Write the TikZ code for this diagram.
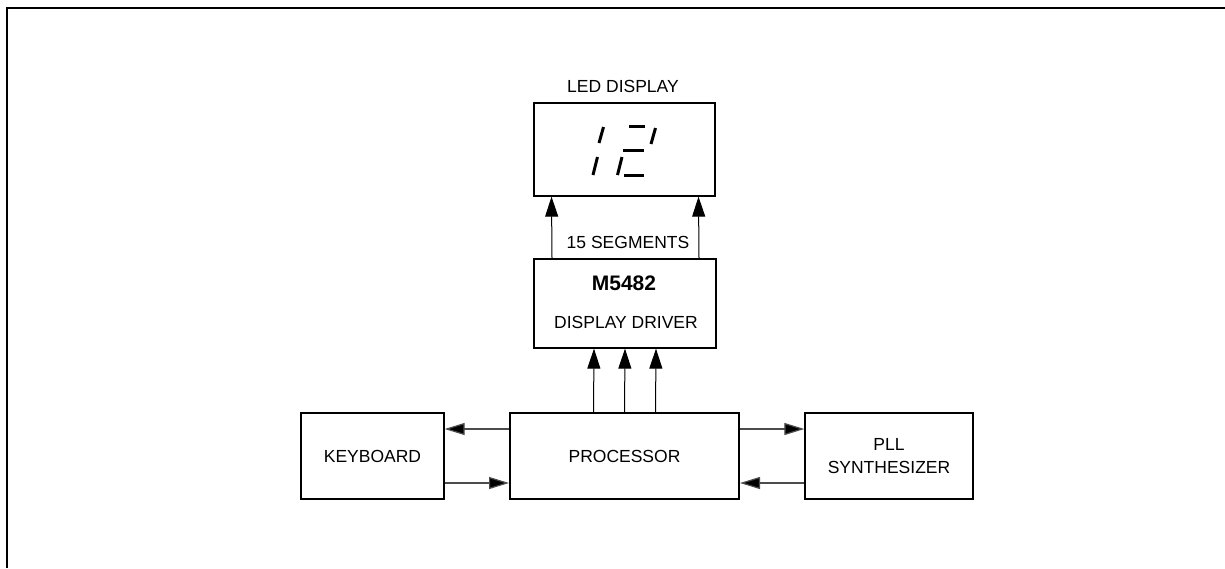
\documentclass[tikz,border=0pt]{standalone}
\usepackage{fontspec}
\setmainfont{Liberation Sans}
\usetikzlibrary{arrows.meta}
\begin{document}
\begin{tikzpicture}[x=1pt,y=-1pt,
  blk/.style={draw=black,line width=1.3pt,inner sep=0pt,font=\fontsize{17.5}{23}\selectfont,align=center},
  txt/.style={inner sep=0pt,font=\fontsize{17.5}{23}\selectfont},
  arr/.style={line width=1pt,-{Triangle[length=20pt,width=13pt]}},
  harr/.style={draw=black!70,line width=1.2pt,-{Triangle[length=20pt,width=12pt,fill=black]}},
  seg/.style={line width=3pt,line cap=butt}]
\useasboundingbox (0,0) rectangle (1225,568);
% frame
\draw[line width=2.6pt] (7,568) -- (7,8) -- (1225,8);
% blocks
\node[blk,minimum width=181pt,minimum height=93pt] (disp) at (624.5,149.5) {};
\node[blk,minimum width=182pt,minimum height=89pt] (drv) at (625,303.5) {};
\node[blk,line width=2pt,minimum width=229pt,minimum height=86pt] (proc) at (624.5,456) {PROCESSOR};
\node[blk,minimum width=143pt,minimum height=86pt] (kbd) at (372.5,456) {KEYBOARD};
\node[blk,minimum width=168pt,minimum height=86pt] (pll) at (889,456) {PLL\\SYNTHESIZER};
% labels
\node[txt] (ledlbl) at (623,86) {LED DISPLAY};
\node[txt] (seglbl) at (628,242) {15 SEGMENTS};
\node[inner sep=0pt,font=\fontsize{21}{25}\selectfont\bfseries] (m5482) at (624,283) {M5482};
\node[txt] (drvlbl) at (626,322) {DISPLAY DRIVER};
% segment digits
\draw[seg] (603.5,127) -- (599,143);
\draw[seg] (597.5,157) -- (593,175);
\draw[seg] (629,126) -- (645,126);
\draw[seg] (655.5,128) -- (651,144);
\draw[seg] (623,150) -- (644,150);
\draw[seg] (622,157) -- (617.5,175);
\draw[seg] (624,175) -- (644,175);
% vertical arrows
\draw[arr] ([xshift=-73pt]drv.north) -- ([xshift=-73pt]disp.south);
\draw[arr] ([xshift=74pt]drv.north) -- ([xshift=74pt]disp.south);
\foreach \dx in {-31,0,31}
  \draw[arr] ([xshift=\dx pt]proc.north) -- ([xshift=\dx pt]drv.south);
% horizontal arrows
\draw[harr] ([yshift=27pt]proc.west) -- ([yshift=27pt]kbd.east);
\draw[harr] ([yshift=-27pt]kbd.east) -- ([yshift=-27pt]proc.west);
\draw[harr] ([yshift=27pt]proc.east) -- ([yshift=27pt]pll.west);
\draw[harr] ([yshift=-27pt]pll.west) -- ([yshift=-27pt]proc.east);
\end{tikzpicture}
\end{document}
